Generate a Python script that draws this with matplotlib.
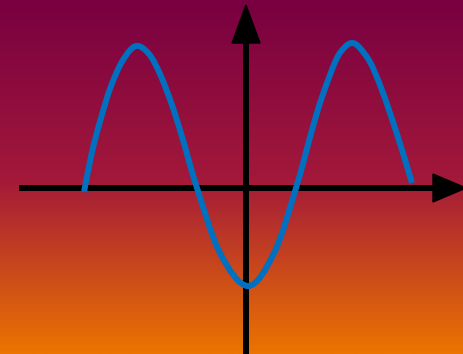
import numpy as np
import matplotlib.pyplot as plt
from matplotlib.colors import LinearSegmentedColormap
from matplotlib.patches import Polygon, PathPatch
from matplotlib.path import Path

# curve (pixel coords, y grows downward)
curve_x = [84, 92, 101, 111, 123, 136, 149, 160, 172, 183, 197, 220, 248,
           274, 296, 312, 322, 336, 345, 352, 359, 370, 380, 390, 402, 412]
curve_y = [192, 152, 118, 86, 60, 46, 54, 74, 105, 140, 188, 253, 286,
           253, 188, 130, 97, 60, 47, 43, 47, 62, 85, 113, 150, 183]

W, H = 464, 354
axis_y = 188
axis_x = 246

fig = plt.figure(figsize=(W / 100, H / 100), dpi=100)
ax = fig.add_axes([0, 0, 1, 1])
ax.set_xlim(0, W)
ax.set_ylim(H, 0)
ax.axis('off')

# background gradient
cmap = LinearSegmentedColormap.from_list(
    'bg', [(0, '#780041'), (0.5, '#a2183a'), (1, '#ec7400')])
grad = np.linspace(0, 1, 256).reshape(-1, 1)
ax.imshow(grad, cmap=cmap, aspect='auto', extent=[0, W, H, 0], zorder=0)

lw = 6 * 72 / 100

# axes with arrow heads
ax.plot([19, 436], [axis_y, axis_y], color='black', lw=lw,
        solid_capstyle='butt', zorder=2)
ax.add_patch(Polygon([[433, axis_y - 14], [466, axis_y], [433, axis_y + 14]],
                     closed=True, color='black', zorder=2))
ax.plot([axis_x, axis_x], [H, 40], color='black', lw=lw,
        solid_capstyle='butt', zorder=2)
ax.add_patch(Polygon([[axis_x - 14, 43], [axis_x, 5], [axis_x + 14, 43]],
                     closed=True, color='black', zorder=2))

# the wave: smooth bezier through the traced points (catmull-rom handles)
pts = np.column_stack([curve_x, curve_y]).astype(float)
verts = [pts[0]]
codes = [Path.MOVETO]
for i in range(len(pts) - 1):
    p0 = pts[max(i - 1, 0)]
    p1 = pts[i]
    p2 = pts[i + 1]
    p3 = pts[min(i + 2, len(pts) - 1)]
    verts += [p1 + (p2 - p0) / 6, p2 - (p3 - p1) / 6, p2]
    codes += [Path.CURVE4] * 3
ax.add_patch(PathPatch(Path(verts, codes), fill=False, edgecolor='#0070c0',
                       lw=lw, capstyle='butt', joinstyle='round', zorder=3))

fig.savefig('out.png', dpi=100)
